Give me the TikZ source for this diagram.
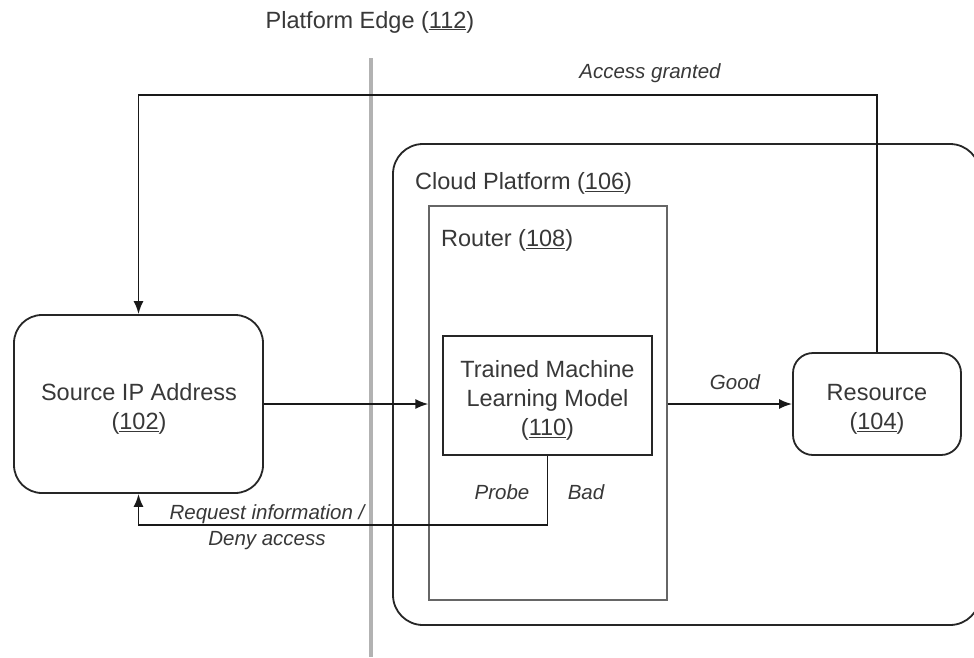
\documentclass[tikz,border=0pt]{standalone}
\usepackage{fontspec}
\setmainfont{Liberation Sans}
\usetikzlibrary{arrows.meta}
\begin{document}
\begin{tikzpicture}[x=1pt,y=-1pt,
  txt/.style={text=black!78, font=\fontsize{23.5}{29}\selectfont, inner sep=0pt},
  lbl/.style={text=black!78, font=\fontsize{20.5}{26}\selectfont\itshape, inner sep=0pt},
  rbox/.style={draw=black!85, line width=1.8pt, rounded corners=#1, inner sep=0pt},
  sbox/.style={draw=black!85, line width=1.8pt, inner sep=0pt},
  conn/.style={draw=black!90, line width=1.8pt},
  arr/.style={conn, -{Latex[length=13pt,width=10pt]}}
]
\useasboundingbox (0,0) rectangle (974,657);
\fill[white] (0,0) rectangle (974,657);
% platform edge
\draw[black!30, line width=3.5pt] (371,58) -- (371,657);
\node[txt] (pe) at (370,22) {Platform Edge (\underline{112})};
% containers
\node[rbox=30pt, minimum width=587pt, minimum height=481pt] (cloud) at (686.5,384.5) {};
\node[txt, anchor=west] (cloudlbl) at (415,183) {Cloud Platform (\underline{106})};
\node[draw=black!60, line width=1.3pt, minimum width=238pt, minimum height=394pt, inner sep=0pt] (router) at (548,403) {};
\node[txt, anchor=west] (routerlbl) at (441,240) {Router (\underline{108})};
% boxes
\node[rbox=28pt, minimum width=249pt, minimum height=178pt] (src) at (138.5,404) {};
\node[txt, align=center] (srctxt) at (139,409) {Source IP Address\\(\underline{102})};
\node[sbox, minimum width=209pt, minimum height=119pt] (ml) at (547.5,395.5) {};
\node[txt, align=center] (mltxt) at (547.5,400) {Trained Machine\\Learning Model\\(\underline{110})};
\node[rbox=20pt, minimum width=168pt, minimum height=102pt] (res) at (877,404) {};
\node[txt, align=center] (restxt) at (877,409) {Resource\\(\underline{104})};
% connectors
\coordinate (top) at (0,95);
\coordinate (bot) at (0,525);
\draw[arr] (src.east) -- (src.east -| router.west);
\draw[arr] (router.east |- res.west) -- (res.west);
\draw[arr] (res.north) -- (res.north |- top) -- (src.north |- top) -- (src.north);
\draw[arr] (ml.south) -- (ml.south |- bot) -- (src.south |- bot) -- (src.south);
% labels
\node[lbl] (acc) at (650,73) {Access granted};
\node[lbl] (good) at (735,382) {Good};
\node[lbl] (probe) at (502,492) {Probe};
\node[lbl] (bad) at (586,492) {Bad};
\node[lbl, align=center] (req) at (267,527) {Request information /\\Deny access};
\end{tikzpicture}
\end{document}
